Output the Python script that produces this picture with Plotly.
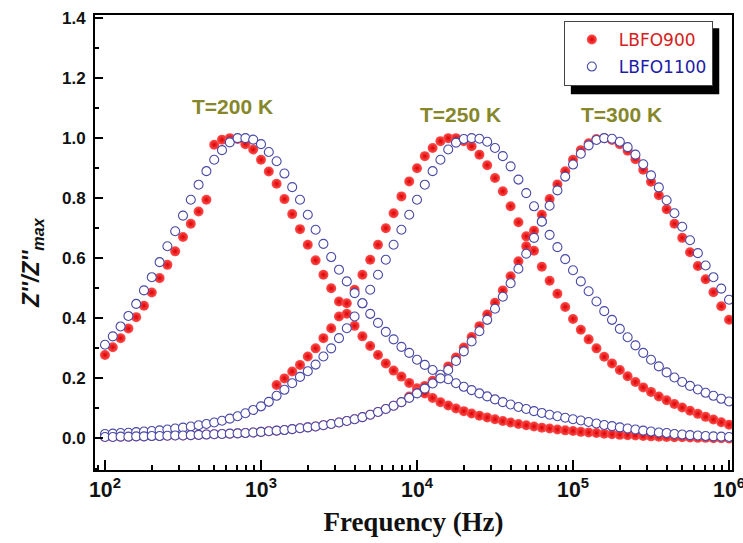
import plotly.graph_objects as go

# Frequency grid (Hz), 20 points per decade
freq = [100, 112.2, 125.9, 141.3, 158.5, 177.8, 199.5, 223.9, 251.2, 281.8,
        316.2, 354.8, 398.1, 446.7, 501.2, 562.3, 631.0, 707.9, 794.3, 891.3,
        1000, 1122, 1259, 1413, 1585, 1778, 1995, 2239, 2512, 2818,
        3162, 3548, 3981, 4467, 5012, 5623, 6310, 7079, 7943, 8913,
        10000, 11220, 12590, 14130, 15850, 17780, 19950, 22390, 25120, 28180,
        31620, 35480, 39810, 44670, 50120, 56230, 63100, 70790, 79430, 89130,
        100000, 112200, 125900, 141300, 158500, 177800, 199500, 223900, 251200, 281800,
        316200, 354800, 398100, 446700, 501200, 562300, 631000, 707900, 794300, 891300,
        1000000]

# LBFO900 (red)
red_200 = [0.278, 0.304, 0.334, 0.366, 0.404, 0.442, 0.486, 0.534, 0.578, 0.623,
           0.671, 0.715, 0.756, 0.795, 0.978, 0.995, 1.000, 0.997, 0.980, 0.962,
           0.928, 0.889, 0.848, 0.797, 0.747, 0.697, 0.645, 0.593, 0.545, 0.500,
           0.456, 0.415, 0.375, 0.340, 0.308, 0.278, 0.250, 0.226, 0.206, 0.185,
           0.167, 0.150, 0.135, 0.121, 0.110, 0.100, 0.091, 0.083, 0.076, 0.070,
           0.064, 0.058, 0.053, 0.048, 0.044, 0.040, 0.036, 0.033, 0.030, 0.027,
           0.025, 0.022, 0.020, 0.018, 0.016, 0.014, 0.012, 0.011, 0.010, 0.008,
           0.007, 0.006, 0.005, 0.004, 0.004, 0.003, 0.002, 0.002, 0.001, 0.001,
           0.000]
red_250 = [None] * 22 + [
           0.178, 0.200, 0.223, 0.245, 0.273, 0.300, 0.334, 0.367,
           0.406, 0.450, 0.495, 0.545, 0.595, 0.645, 0.700, 0.750, 0.806, 0.856,
           0.900, 0.940, 0.967, 0.990, 1.000, 1.000, 0.990, 0.973, 0.945, 0.910,
           0.867, 0.823, 0.773, 0.720, 0.673, 0.625, 0.572, 0.525, 0.482, 0.438,
           0.398, 0.362, 0.330, 0.300, 0.272, 0.250, 0.228, 0.207, 0.188, 0.170,
           0.155, 0.140, 0.127, 0.115, 0.103, 0.092, 0.082, 0.072, 0.063, 0.054,
           0.046]
red_300 = [0.005, 0.005, 0.006, 0.006, 0.007, 0.007, 0.008, 0.008, 0.009, 0.010,
           0.010, 0.011, 0.012, 0.013, 0.014, 0.015, 0.016, 0.017, 0.018, 0.020,
           0.022, 0.024, 0.026, 0.028, 0.031, 0.034, 0.037, 0.040, 0.044, 0.048,
           0.053, 0.058, 0.064, 0.071, 0.079, 0.088, 0.098, 0.109, 0.121, 0.140,
           0.157, 0.175, 0.192, 0.210, 0.240, 0.270, 0.303, 0.338, 0.374, 0.413,
           0.452, 0.493, 0.540, 0.590, 0.640, 0.692, 0.745, 0.797, 0.846, 0.890,
           0.928, 0.960, 0.983, 0.997, 1.000, 0.994, 0.980, 0.958, 0.930, 0.895,
           0.855, 0.810, 0.763, 0.715, 0.668, 0.620, 0.574, 0.530, 0.487, 0.440,
           0.395]

# LBFO1100 (blue)
blue_200 = [0.312, 0.340, 0.373, 0.408, 0.448, 0.493, 0.537, 0.587, 0.640, 0.690,
            0.742, 0.795, 0.845, 0.890, 0.928, 0.960, 0.986, 1.000, 1.000, 0.995,
            0.980, 0.954, 0.923, 0.882, 0.837, 0.795, 0.745, 0.695, 0.648, 0.604,
            0.562, 0.523, 0.484, 0.450, 0.415, 0.385, 0.355, 0.330, 0.305, 0.285,
            0.262, 0.245, 0.228, 0.212, 0.197, 0.184, 0.172, 0.161, 0.150, 0.140,
            0.130, 0.121, 0.113, 0.105, 0.098, 0.091, 0.085, 0.079, 0.074, 0.069,
            0.064, 0.060, 0.055, 0.050, 0.045, 0.041, 0.037, 0.033, 0.030, 0.026,
            0.023, 0.020, 0.018, 0.015, 0.013, 0.011, 0.010, 0.008, 0.007, 0.006,
            0.005]
blue_250 = [0.015, 0.016, 0.018, 0.019, 0.021, 0.023, 0.025, 0.027, 0.030, 0.033,
            0.036, 0.040, 0.044, 0.048, 0.053, 0.059, 0.066, 0.074, 0.084, 0.095,
            0.107, 0.122, 0.142, 0.162, 0.184, 0.205, 0.224, 0.246, 0.273, 0.300,
            0.334, 0.367, 0.406, 0.450, 0.495, 0.545, 0.595, 0.645, 0.695, 0.745,
            0.795, 0.845, 0.890, 0.928, 0.962, 0.985, 0.997, 1.000, 0.998, 0.988,
            0.967, 0.940, 0.906, 0.862, 0.817, 0.773, 0.723, 0.678, 0.637, 0.597,
            0.560, 0.523, 0.490, 0.456, 0.424, 0.395, 0.365, 0.337, 0.310, 0.285,
            0.262, 0.240, 0.220, 0.203, 0.188, 0.175, 0.163, 0.152, 0.142, 0.132,
            0.123]
blue_300 = [0.005, 0.005, 0.006, 0.006, 0.007, 0.007, 0.008, 0.008, 0.009, 0.010,
            0.010, 0.011, 0.012, 0.013, 0.014, 0.015, 0.016, 0.017, 0.018, 0.020,
            0.022, 0.024, 0.026, 0.028, 0.031, 0.034, 0.037, 0.040, 0.044, 0.048,
            0.053, 0.058, 0.064, 0.071, 0.079, 0.088, 0.098, 0.109, 0.121, 0.135,
            0.150, 0.166, 0.183, 0.200, 0.228, 0.258, 0.290, 0.323, 0.357, 0.395,
            0.432, 0.472, 0.517, 0.565, 0.615, 0.668, 0.722, 0.775, 0.826, 0.872,
            0.912, 0.948, 0.976, 0.994, 1.000, 0.998, 0.988, 0.970, 0.945, 0.913,
            0.876, 0.836, 0.793, 0.750, 0.705, 0.660, 0.617, 0.576, 0.537, 0.499,
            0.462]

temp_labels = ["T=200 K", "T=250 K", "T=300 K"]
label_x = [2.82, 4.28, 5.31]      # log10(frequency) of label centres
label_y = [1.105, 1.078, 1.078]

BLUE = "#4848a8"

fig = go.Figure()

red_marker = dict(symbol="circle", size=10, color="#ff5050",
                  gradient=dict(type="radial", color="#dc0000"),
                  line=dict(width=0))
blue_marker = dict(symbol="circle", size=9, color="white",
                   line=dict(width=1.1, color=BLUE))

for k, ys in enumerate([red_200, red_250, red_300]):
    fig.add_trace(go.Scatter(x=freq, y=ys, mode="markers", marker=red_marker,
                             name="<span style='color:#d42020'>LBFO900</span>",
                             legendgroup="r", showlegend=(k == 0)))
for k, ys in enumerate([blue_200, blue_250, blue_300]):
    fig.add_trace(go.Scatter(x=freq, y=ys, mode="markers", marker=blue_marker,
                             name="<span style='color:#1c1ca8'>LBFO1100</span>",
                             legendgroup="b", showlegend=(k == 0)))

for t, lx, ly in zip(temp_labels, label_x, label_y):
    fig.add_annotation(x=lx, y=ly, xref="x", yref="y", text=t, showarrow=False,
                       font=dict(family="Arial, Liberation Sans", size=21,
                                 color="#86862a", weight="bold"))

# y-axis title, placed like the reference (slightly below the axis centre)
fig.add_annotation(x=-0.099, y=0.457, xref="paper", yref="paper",
                   text="<i>Z''/Z''<sub>max</sub></i>", showarrow=False,
                   textangle=-90, xanchor="center", yanchor="middle",
                   font=dict(family="Arial, Liberation Sans", size=23,
                             color="#111", weight="bold"))

# legend shadow (legend box ~ x 564-712, y 21-88 px; shadow offset 7 px)
fig.add_shape(type="rect", xref="paper", yref="paper",
              x0=0.747, x1=0.980, y0=0.826, y1=0.971,
              fillcolor="black", line=dict(width=0), layer="above")

axis_font = dict(family="Arial, Liberation Sans", size=17, color="#111",
                 weight="bold")

fig.update_layout(
    width=743, height=543,
    margin=dict(l=95, r=11, t=15, b=73, autoexpand=False),
    paper_bgcolor="white", plot_bgcolor="white",
    showlegend=True,
    legend=dict(x=0.736, y=0.987, xanchor="left", yanchor="top",
                bgcolor="white", bordercolor="#444", borderwidth=1,
                font=dict(family="DejaVu Sans", size=17),
                itemwidth=44, tracegroupgap=2),
    xaxis=dict(type="log", range=[1.936, 6.019], dtick=1, automargin=False,
               exponentformat="power", showgrid=False, zeroline=False,
               ticks="inside", ticklen=10, tickwidth=2, tickcolor="black",
               showline=True, linewidth=2, linecolor="black", mirror=True,
               ticklabeloverflow="allow",
               tickfont=dict(family="Arial, Liberation Sans", size=17,
                             color="#111", weight="bold"),
               minor=dict(ticks="inside", ticklen=5, tickwidth=1.5,
                          tickcolor="black", dtick="D1", showgrid=False),
               title=dict(text="Frequency (Hz)", standoff=11,
                          font=dict(family="Times New Roman, Liberation Serif",
                                    size=27, color="#111", weight="bold"))),
    yaxis=dict(range=[-0.105, 1.41], dtick=0.2, tick0=0, tickformat=".1f",
               automargin=False, showgrid=False, zeroline=False,
               ticks="inside", ticklen=8, tickwidth=2, tickcolor="black",
               showline=True, linewidth=2, linecolor="black", mirror=True,
               tickfont=axis_font, ticklabelstandoff=4,
               minor=dict(ticks="inside", ticklen=4, tickwidth=1.5,
                          tickcolor="black", dtick=0.1, showgrid=False)),
)

fig.write_html("out.html", config={"displayModeBar": False},
               post_script="document.body.style.margin='0';"
                           "document.body.style.overflow='hidden';")
